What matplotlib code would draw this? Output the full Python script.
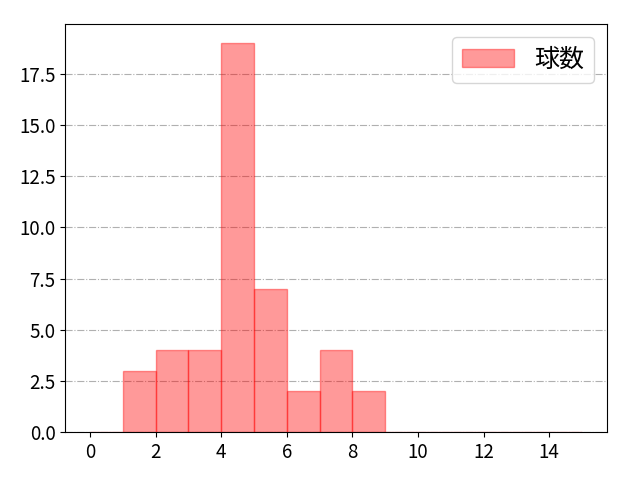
import matplotlib

matplotlib.use("Agg")
import matplotlib.pyplot as plt
import numpy as np

plt.rcParams["font.family"] = ["Noto Sans CJK JP", "DejaVu Sans"]
plt.rcParams["font.size"] = 14

# histogram of pitch counts, bins of width 1 from 0 to 15
bin_edges = list(range(0, 16))
counts = [0, 3, 4, 4, 19, 7, 2, 4, 2, 0, 0, 0, 0, 0, 0]
label = "球数"


def main() -> None:
    fig, ax = plt.subplots(figsize=(6.4, 4.8), dpi=100)
    centers = np.array(bin_edges[:-1]) + 0.5
    ax.hist(centers, bins=bin_edges, weights=counts, color="red", alpha=0.4,
            edgecolor="red", linewidth=1, label=label)
    ax.set_xticks(range(0, 15, 2))
    ax.tick_params(labelsize=13.5)
    ax.grid(True, axis="y", linestyle="-.", color="#b0b0b0")
    ax.set_axisbelow(True)
    ax.legend(loc="upper right", fontsize=18, handlelength=2.1)
    fig.subplots_adjust(left=0.102, right=0.948, top=0.95, bottom=0.1)
    fig.savefig("out.png", dpi=100)
    plt.close(fig)


if __name__ == "__main__":
    main()
